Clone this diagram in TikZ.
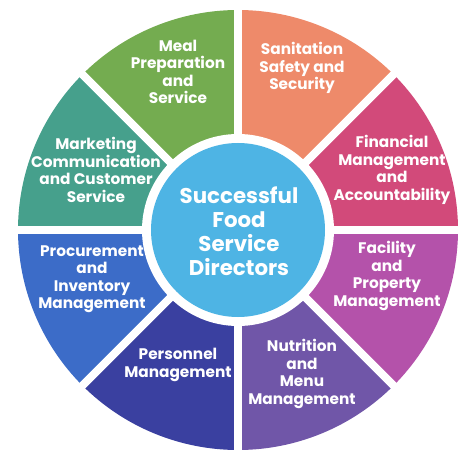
\documentclass[tikz,border=0pt]{standalone}
\usepackage{fontspec}
\setmainfont{Poppins}
\definecolor{mealgreen}{RGB}{116,172,80}
\definecolor{sanisalmon}{RGB}{238,138,106}
\definecolor{finpink}{RGB}{210,74,122}
\definecolor{facmagenta}{RGB}{180,82,170}
\definecolor{nutpurple}{RGB}{112,86,168}
\definecolor{persblue}{RGB}{58,64,160}
\definecolor{procblue}{RGB}{60,108,200}
\definecolor{markteal}{RGB}{70,160,140}
\definecolor{hubblue}{RGB}{78,180,228}
\begin{document}
\begin{tikzpicture}[x=0.75pt,y=0.75pt,
    lbl/.style={text=white,align=center,font=\bfseries\fontsize{11.5}{13.1}\selectfont,inner sep=0pt},
    hub/.style={text=white,align=center,font=\bfseries\fontsize{16}{18}\selectfont,inner sep=0pt},
    gap/.style={white,line width=6pt}]
    \useasboundingbox (0,0) rectangle (474,457);
    \coordinate (c) at (238,227);
    % the eight slices
    \fill[color=finpink] (c) -- ++(0:220) arc[start angle=0,end angle=45,radius=220] -- cycle;
    \fill[color=sanisalmon] (c) -- ++(45:220) arc[start angle=45,end angle=90,radius=220] -- cycle;
    \fill[color=mealgreen] (c) -- ++(90:220) arc[start angle=90,end angle=135,radius=220] -- cycle;
    \fill[color=markteal] (c) -- ++(135:220) arc[start angle=135,end angle=180,radius=220] -- cycle;
    \fill[color=procblue] (c) -- ++(180:220) arc[start angle=180,end angle=225,radius=220] -- cycle;
    \fill[color=persblue] (c) -- ++(225:220) arc[start angle=225,end angle=270,radius=220] -- cycle;
    \fill[color=nutpurple] (c) -- ++(270:220) arc[start angle=270,end angle=315,radius=220] -- cycle;
    \fill[color=facmagenta] (c) -- ++(315:220) arc[start angle=315,end angle=360,radius=220] -- cycle;
    % white gaps
    \foreach \a in {0,45,...,315}
        \draw[gap] (c) -- ++(\a:225);
    \fill[white] (c) circle[radius=96];
    \fill[color=hubblue] (c) circle[radius=87];
    % texts
    \node[hub] (hubtxt) at (239,226) {Successful\\Food\\Service\\Directors};
    \node[lbl] (meal) at (178,385) {Meal\\Preparation\\and\\Service};
    \node[lbl] (sani) at (302,389) {Sanitation\\Safety and\\Security};
    \node[lbl] (fin) at (392,287) {Financial\\Management\\and\\Accountability};
    \node[lbl] (fac) at (387,181) {Facility\\and\\Property\\Management};
    \node[lbl] (nut) at (302,83) {Nutrition\\and\\Menu\\Management};
    \node[lbl] (pers) at (178,92) {Personnel\\Management};
    \node[lbl] (proc) at (92,178) {Procurement\\and\\Inventory\\Management};
    \node[lbl] (mark) at (96,287) {Marketing\\Communication\\and Customer\\Service};
\end{tikzpicture}
\end{document}
